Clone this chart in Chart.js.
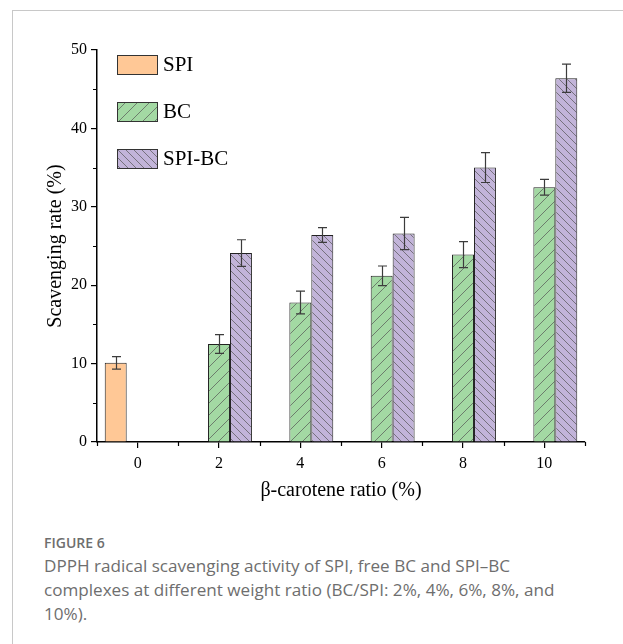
<!DOCTYPE html>
<html>
<head>
<meta charset="utf-8">
<script src="https://cdn.jsdelivr.net/npm/chart.js@4.4.0/dist/chart.umd.min.js"></script>
<style>
  html, body { margin: 0; padding: 0; background: #fff; }
  body { width: 623px; height: 644px; position: relative; overflow: hidden; }
  #frame { position: absolute; left: 12px; top: 10px; width: 700px; height: 700px;
           border-top: 1px solid #c8c8c8; border-left: 1px solid #c8c8c8; }
  #wrap { position: absolute; left: 0; top: 0; width: 623px; height: 515px; }
  #caption { position: absolute; left: 44px; top: 533px; font-family: "Open Sans", sans-serif; color: #6e6e6e; }
  #caption .fig { font-size: 14px; font-weight: 600; margin-bottom: 2px; }
  #caption .txt { font-size: 17.1px; line-height: 24px; white-space: nowrap; }
</style>
</head>
<body>
<div id="frame"></div>
<div id="wrap"><canvas id="scav"></canvas></div>
<div id="caption">
  <div class="fig">FIGURE 6</div>
  <div class="txt">DPPH radical scavenging activity of SPI, free BC and SPI–BC<br>complexes at different weight ratio (BC/SPI: 2%, 4%, 6%, 8%, and<br>10%).</div>
</div>
<script>
const ratios = ['0', '2', '4', '6', '8', '10'];
const spiValues = [10.1, null, null, null, null, null];
const spiErrors = [0.8, null, null, null, null, null];
const bcValues = [null, 12.5, 17.8, 21.2, 23.9, 32.5];
const bcErrors = [null, 1.2, 1.45, 1.25, 1.65, 1.0];
const spiBcValues = [null, 24.1, 26.4, 26.6, 35.0, 46.4];
const spiBcErrors = [null, 1.7, 0.95, 2.05, 1.9, 1.8];
const yTicks = [0, 10, 20, 30, 40, 50];

const serif = 'Liberation Serif';
const canvas = document.getElementById('scav');
const ctx = canvas.getContext('2d');

// diagonal hatch tile, '/' or '\'
function hatch(fill, dir, size) {
  const tile = document.createElement('canvas');
  tile.width = size;
  tile.height = size;
  const t = tile.getContext('2d');
  t.fillStyle = fill;
  t.fillRect(0, 0, size, size);
  t.strokeStyle = '#555';
  t.lineWidth = 0.7;
  t.beginPath();
  if (dir === '/') {
    t.moveTo(-1, size + 1); t.lineTo(size + 1, -1);
  } else {
    t.moveTo(-1, -1); t.lineTo(size + 1, size + 1);
  }
  t.stroke();
  return ctx.createPattern(tile, 'repeat');
}

const errorsByDataset = [spiErrors, bcErrors, spiBcErrors];

const errorBars = {
  id: 'errorBars',
  afterDatasetsDraw(chart) {
    const c = chart.ctx;
    const y = chart.scales.y;
    c.save();
    c.strokeStyle = '#3c3c3c';
    c.lineWidth = 1.2;
    chart.data.datasets.forEach((ds, di) => {
      const meta = chart.getDatasetMeta(di);
      meta.data.forEach((bar, i) => {
        const v = ds.data[i];
        const e = errorsByDataset[di][i];
        if (v == null || e == null) return;
        const x = Math.round(bar.x) + 0.5;
        const top = y.getPixelForValue(v + e);
        const bot = y.getPixelForValue(v - e);
        c.beginPath();
        c.moveTo(x, top); c.lineTo(x, bot);
        c.moveTo(x - 4.5, top); c.lineTo(x + 4.5, top);
        c.moveTo(x - 4.5, bot); c.lineTo(x + 4.5, bot);
        c.stroke();
      });
    });
    c.restore();
  }
};

const minorTicks = {
  id: 'minorTicks',
  afterDraw(chart) {
    const c = chart.ctx;
    const x = chart.scales.x;
    const y = chart.scales.y;
    const area = chart.chartArea;
    c.save();
    c.strokeStyle = '#000';
    c.lineWidth = 1.2;
    c.beginPath();
    for (let v = 5; v < 50; v += 10) {
      const py = Math.round(y.getPixelForValue(v)) + 0.5;
      c.moveTo(area.left - 4, py); c.lineTo(area.left, py);
    }
    for (let i = -1; i < ratios.length; i++) {
      const px = Math.round((x.getPixelForValue(i) + x.getPixelForValue(i + 1)) / 2) + 0.5;
      c.moveTo(px, area.bottom); c.lineTo(px, area.bottom + 4);
    }
    c.stroke();
    c.restore();
  }
};

const boxLegend = {
  id: 'boxLegend',
  afterDraw(chart) {
    const c = chart.ctx;
    c.save();
    c.font = '21px "' + serif + '"';
    c.textBaseline = 'middle';
    chart.data.datasets.forEach((ds, i) => {
      const top = 55 + i * 47;
      c.fillStyle = ds.backgroundColor;
      c.fillRect(117, top, 40, 19);
      c.strokeStyle = '#333';
      c.lineWidth = 1;
      c.strokeRect(117.5, top + 0.5, 40, 19);
      c.fillStyle = '#000';
      c.fillText(ds.label, 163, top + 10);
    });
    c.restore();
  }
};

new Chart(canvas, {
  type: 'bar',
  data: {
    labels: ratios,
    datasets: [
      { label: 'SPI', data: spiValues, backgroundColor: '#ffc896' },
      { label: 'BC', data: bcValues, backgroundColor: hatch('#a3d9a3', '/', 12) },
      { label: 'SPI-BC', data: spiBcValues, backgroundColor: hatch('#c2b4d9', '\\', 8) }
    ]
  },
  plugins: [errorBars, minorTicks, boxLegend],
  options: {
    responsive: true,
    maintainAspectRatio: false,
    animation: false,
    layout: { padding: { left: 0, top: 50, right: 38, bottom: 0 } },
    datasets: {
      bar: {
        borderColor: '#222',
        borderWidth: 1,
        borderSkipped: 'bottom',
        categoryPercentage: 0.81,
        barPercentage: 1
      }
    },
    scales: {
      x: {
        offset: true,
        afterFit: s => { s.height = 73; },
        grid: { display: true, offset: false, drawOnChartArea: false, drawTicks: true, tickLength: 6, color: '#000', lineWidth: 1.2 },
        border: { display: true, color: '#000', width: 1.5 },
        ticks: { color: '#000', padding: 6, font: { family: serif, size: 16 } },
        title: { display: true, text: 'β-carotene ratio (%)', color: '#000', font: { family: serif, size: 20 }, padding: { top: 0, bottom: 12 } }
      },
      y: {
        min: 0,
        max: 50,
        afterFit: s => { s.width = 97; },
        afterBuildTicks: s => { s.ticks = yTicks.map(v => ({ value: v })); },
        grid: { display: true, drawOnChartArea: false, drawTicks: true, tickLength: 6, color: '#000', lineWidth: 1.2 },
        border: { display: true, color: '#000', width: 1.5 },
        ticks: { color: '#000', padding: 4, font: { family: serif, size: 16 } },
        title: { display: true, text: 'Scavenging rate (%)', color: '#000', font: { family: serif, size: 20 }, padding: { top: 44, bottom: 0 } }
      }
    },
    plugins: {
      legend: { display: false },
      tooltip: { enabled: false }
    }
  }
});
</script>
</body>
</html>
